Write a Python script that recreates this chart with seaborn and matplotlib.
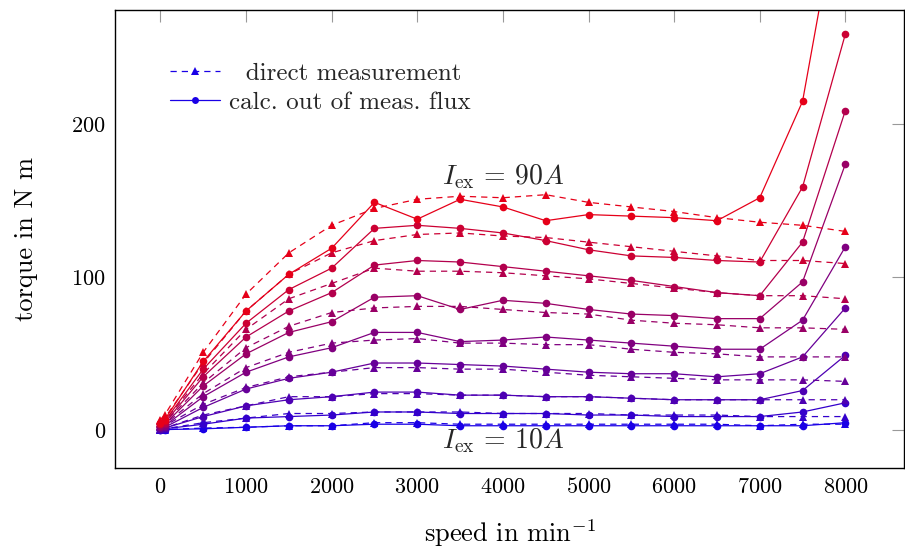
import numpy as np
import pandas as pd
import matplotlib
matplotlib.use("Agg")
import matplotlib.pyplot as plt
import seaborn as sns
from matplotlib.lines import Line2D

# speed in 1/min, excitation current in A
speed = [0, 50, 500, 1000, 1500, 2000, 2500, 3000, 3500, 4000, 4500,
         5000, 5500, 6000, 6500, 7000, 7500, 8000]
currents = [10, 20, 30, 40, 50, 60, 70, 80, 90]

# torque calculated out of measured flux (solid, circles)
calc_10 = [0.3, 0.5, 1, 2, 3, 3, 4, 4, 3, 3, 3, 3, 3, 3, 3, 3, 3, 5]
calc_20 = [0.5, 1, 4, 8, 9, 10, 12, 12, 11, 11, 11, 10, 10, 9, 9, 9, 12, 18]
calc_30 = [1, 1.5, 9, 16, 20, 22, 25, 25, 23, 23, 22, 22, 21, 20, 20, 20, 26, 49]
calc_40 = [1.5, 2, 15, 27, 34, 38, 44, 44, 43, 42, 40, 38, 37, 37, 35, 37, 48, 80]
calc_50 = [2, 3, 22, 38, 48, 54, 64, 64, 58, 59, 61, 59, 57, 55, 53, 53, 72, 120]
calc_60 = [3, 4, 29, 50, 64, 71, 87, 88, 79, 85, 83, 79, 76, 75, 73, 73, 97, 174]
calc_70 = [4, 5, 35, 61, 78, 90, 108, 111, 110, 107, 104, 101, 98, 94, 90, 88, 123, 209]
calc_80 = [4, 6, 40, 70, 92, 106, 132, 134, 132, 129, 124, 118, 114, 113, 111, 110, 159, 259]
calc_90 = [5, 7, 45, 78, 102, 119, 149, 138, 151, 146, 137, 141, 140, 139, 137, 152, 215, 370]

# direct torque measurement (dashed, triangles)
direct_10 = [0.3, 0.5, 1.5, 2, 3, 3, 5, 5, 4, 4, 4, 4, 4, 4, 4, 3, 4, 4]
direct_20 = [0.5, 1, 5, 8, 11, 11, 12, 12, 12, 11, 11, 11, 10, 10, 10, 9, 9, 9]
direct_30 = [1, 1.5, 10, 16, 22, 22, 24, 24, 23, 23, 22, 22, 21, 20, 20, 20, 20, 20]
direct_40 = [2, 3, 17, 28, 35, 38, 41, 41, 40, 40, 38, 36, 35, 34, 33, 33, 33, 32]
direct_50 = [3, 4, 24, 41, 51, 57, 59, 60, 57, 57, 56, 56, 53, 51, 50, 48, 48, 48]
direct_60 = [4, 5, 31, 54, 68, 77, 80, 81, 81, 79, 77, 76, 72, 70, 69, 67, 67, 66]
direct_70 = [5, 6, 37, 66, 86, 96, 106, 104, 104, 103, 101, 99, 96, 93, 90, 88, 88, 86]
direct_80 = [6, 8, 44, 78, 102, 116, 124, 128, 129, 127, 126, 123, 120, 117, 114, 111, 111, 109]
direct_90 = [7, 10, 51, 89, 116, 134, 145, 151, 153, 152, 154, 149, 146, 143, 139, 136, 134, 130]

calc = [calc_10, calc_20, calc_30, calc_40, calc_50, calc_60, calc_70, calc_80, calc_90]
direct = [direct_10, direct_20, direct_30, direct_40, direct_50, direct_60,
          direct_70, direct_80, direct_90]

rows = []
for i, cur in enumerate(currents):
    for s, d, c in zip(speed, direct[i], calc[i]):
        rows.append({"speed": s, "torque": d, "current": cur, "method": "direct"})
        rows.append({"speed": s, "torque": c, "current": cur, "method": "calc"})
df = pd.DataFrame(rows)

# blue -> red colour mix like red!I!blue
palette = {cur: (cur / 100, 0, 1 - cur / 100) for cur in currents}

sns.set_theme(style="white")
plt.rcParams["font.family"] = ["cmr10", "DejaVu Serif"]
plt.rcParams["mathtext.fontset"] = "cm"
plt.rcParams["axes.formatter.use_mathtext"] = True
plt.rcParams["axes.unicode_minus"] = False

fig = plt.figure(figsize=(9.05, 5.51), dpi=100)
ax = fig.add_axes([0.1276, 0.1515, 0.8713, 0.8295])

sns.lineplot(data=df, x="speed", y="torque", hue="current", style="method",
             hue_order=currents, style_order=["direct", "calc"],
             palette=palette, markers={"direct": "^", "calc": "o"},
             dashes={"direct": (5, 4), "calc": ""},
             markersize=5.5, linewidth=0.9, markeredgewidth=0,
             estimator=None, sort=False, legend=False, ax=ax)

ax.set_xlim(-525, 8685)
ax.set_ylim(-24.3, 274.4)
ax.set_xticks(range(0, 8001, 1000))
ax.set_yticks([0, 100, 200])
ax.tick_params(direction="in", length=8.5, width=0.8, color="#999999",
               top=True, right=True, labelsize=16, pad=7, labelcolor="black")
for sp in ax.spines.values():
    sp.set_color("black")
    sp.set_linewidth(1.0)

ax.set_xlabel("speed in min$^{-1}$", fontsize=19, color="black")
ax.set_ylabel("torque in N m", fontsize=19, color="black")
ax.xaxis.set_label_coords(0.5, -0.11)
ax.yaxis.set_label_coords(-0.098, 0.5)

ax.text(4000, 161, r"$I_{\mathrm{ex}}\,=\,90A$", fontsize=20, ha="center", va="baseline")
ax.text(4000, -12, r"$I_{\mathrm{ex}}\,=\,10A$", fontsize=20, ha="center", va="baseline")

blue = palette[10]
handles = [
    Line2D([], [], color=blue, linestyle=(0, (5, 4)), linewidth=0.9, marker="^",
           markersize=5.5, markeredgewidth=0),
    Line2D([], [], color=blue, linestyle="-", linewidth=0.9, marker="o",
           markersize=5, markeredgewidth=0),
]
ax.legend(handles, ["  direct measurement", "calc. out of meas. flux"],
          loc="upper left", bbox_to_anchor=(0.057, 0.908), frameon=False,
          fontsize=18, handlelength=2.0, handletextpad=0.35, labelspacing=0.25,
          borderaxespad=0)

fig.savefig("out.png", dpi=100)
